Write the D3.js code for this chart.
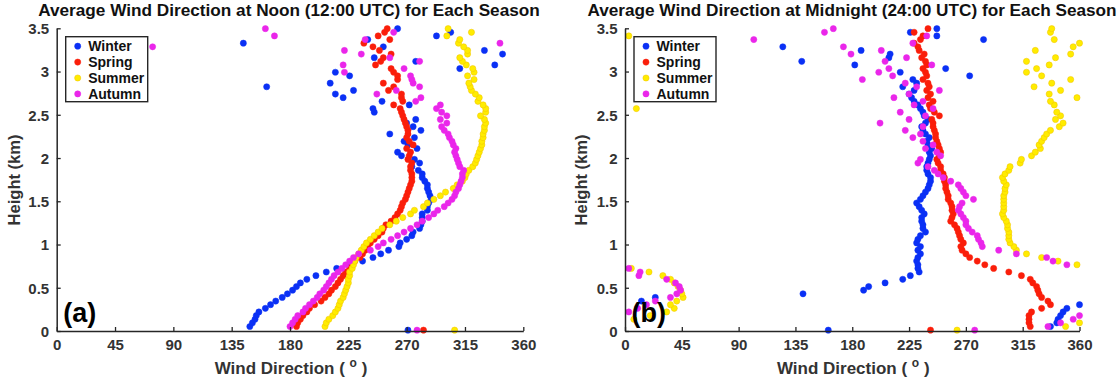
<!DOCTYPE html>
<html><head><meta charset="utf-8">
<script src="https://cdn.jsdelivr.net/npm/d3@7"></script>
<style>
html,body{margin:0;padding:0;background:#fff;}
svg{display:block;font-family:"Liberation Sans",Arial,Helvetica,sans-serif;}
</style></head>
<body>
<svg id="chart" width="1117" height="379"></svg>
<script>
// ---------------- DATA ----------------
const seasons = ["Winter", "Spring", "Summer", "Autumn"];
const xTicks = [0, 45, 90, 135, 180, 225, 270, 315, 360];
const yTicks = [0, 0.5, 1, 1.5, 2, 2.5, 3, 3.5];
const heights = [0.010,0.052,0.094,0.136,0.178,0.220,0.262,0.304,0.346,0.388,0.430,0.472,0.514,0.556,0.598,0.640,0.682,0.724,0.766,0.808,
0.850,0.892,0.934,0.976,1.018,1.060,1.102,1.144,1.186,1.228,1.270,1.312,1.354,1.396,1.438,1.480,1.522,1.564,1.606,1.648,
1.690,1.732,1.774,1.816,1.858,1.900,1.942,1.984,2.026,2.068,2.110,2.152,2.194,2.236,2.278,2.320,2.362,2.404,2.446,2.488,
2.530,2.572,2.614,2.656,2.698,2.740,2.782,2.824,2.866,2.908,2.950,2.992,3.034,3.076,3.118,3.160,3.202,3.244,3.286,3.328,
3.370,3.412,3.454,3.496];

// Noon (12:00 UTC) wind direction (deg) at each height level
const noonWinter = [271,149,151,153,154,156,161,165,169,174,178,182,185,188,193,200,208,216,226,236,
244,250,256,264,265,270,274,275,280,281,282,282,282,286,286,287,289,288,287,286,
286,284,282,282,279,274,280,276,266,263,278,271,268,276,257,281,275,270,277,null,
245,244,272,251,221,215,229,162,211,null,226,215,311,338,277,245,344,330,252,144,
240,293,304,263];
const noonSpring = [283,185,186,188,190,193,195,199,204,207,210,212,215,217,219,221,223,226,228,230,
234,236,238,240,242,245,248,251,252,254,258,261,263,265,266,267,269,270,271,272,
273,274,274,274,273,273,274,271,272,273,270,275,272,270,271,271,270,269,268,267,
266,265,260,267,266,266,256,260,252,263,263,260,258,246,250,252,258,249,244,237,
257,248,253,255];
const noonSummer = [307,207,208,210,213,215,217,218,219,221,222,223,224,225,225,226,226,228,229,230,
231,233,235,237,239,242,245,248,251,257,262,267,273,276,283,286,291,296,300,306,
309,313,315,316,318,321,323,324,325,326,327,328,328,329,329,330,330,331,330,327,
331,331,329,325,326,323,320,319,318,322,317,322,321,316,313,311,317,317,314,310,
311,301,320,302];
const noonAutumn = [278,180,182,184,186,190,192,195,198,201,203,206,208,210,212,214,217,220,223,226,
229,233,242,248,252,258,263,268,273,278,282,287,291,294,299,302,305,307,308,310,
311,312,313,313,314,311,310,309,308,307,308,306,305,303,302,299,297,301,296,301,
297,293,296,277,281,247,262,280,275,274,273,222,268,221,280,257,235,222,74,342,
238,168,260,161];

// Midnight (24:00 UTC) wind direction (deg) at each height level
const midWinter = [161,337,342,343,345,347,350,360,13,24,141,189,193,206,220,226,233,232,232,231,
232,234,232,234,231,232,234,238,236,236,235,235,237,235,233,231,234,236,238,240,
241,242,242,240,239,239,240,241,242,241,243,240,239,241,238,236,235,238,240,237,
236,234,232,229,227,225,229,220,231,228,273,218,254,182,140,209,210,187,125,null,
284,247,226,247];
const midSpring = [242,321,320,320,320,322,330,337,335,330,328,327,326,323,321,314,304,292,285,279,
273,270,267,266,268,266,265,264,263,261,258,259,260,259,259,258,256,256,255,254,
254,253,253,252,250,250,248,247,249,250,249,248,247,246,246,245,244,244,243,249,
245,242,241,244,240,242,239,241,240,236,239,238,236,239,238,235,237,233,232,229,
234,236,229,240];
const midSummer = [263,349,360,7,20,33,39,36,41,46,45,44,42,39,36,30,19,5,358,343,
330,318,310,308,305,304,304,304,303,303,302,300,299,300,300,300,300,300,301,301,
302,300,299,301,304,305,313,314,322,325,329,328,330,332,334,337,344,347,341,345,
342,9,340,337,358,336,345,324,338,353,330,318,326,336,318,341,353,325,355,360,
340,3,337,338];
const midAutumn = [277,335,345,355,360,3,10,17,24,36,41,44,43,40,33,11,12,3,350,339,
334,310,296,283,282,280,279,275,272,270,270,268,266,264,265,267,276,270,268,266,
264,258,252,248,245,240,232,234,250,247,238,244,236,228,234,222,236,202,225,238,
218,244,229,236,213,225,249,231,222,188,212,201,209,243,206,223,179,203,173,228,
102,239,158,165];

const noonSeries = [noonWinter, noonSpring, noonSummer, noonAutumn];
const midSeries = [midWinter, midSpring, midSummer, midAutumn];

// ---------------- STYLE ----------------
const colors = ["#0a30f5", "#fa1e0a", "#ffec00", "#ea26ea"];
const strokes = ["#0a30f5", "#fa1e0a", "#f0c200", "#ea26ea"];
const axisColor = "#262626";

const svg = d3.select("#chart");

const panels = [
  {title: "Average Wind Direction at Noon (12:00 UTC) for Each Season", series: noonSeries,
   x0: 56.7, x1: 523.3, tag: "(a)", titleX: 289, ylabX: 14},
  {title: "Average Wind Direction at Midnight (24:00 UTC) for Each Season", series: midSeries,
   x0: 625, x1: 1079.5, tag: "(b)", titleX: 852, ylabX: 581}
];

const yTop = 28.3, yBot = 331;

panels.forEach(p => {
  const x = d3.scaleLinear().domain([0, 360]).range([p.x0, p.x1]);
  const y = d3.scaleLinear().domain([0, 3.5]).range([yBot, yTop]);
  const g = svg.append("g");

  // points
  p.series.forEach((vals, si) => {
    const pts = vals.map((v, i) => ({v, h: heights[i]})).filter(d => d.v !== null);
    g.append("g").selectAll("circle").data(pts).join("circle")
      .attr("cx", d => x(d.v)).attr("cy", d => y(d.h)).attr("r", 3.1)
      .attr("fill", colors[si]).attr("stroke", strokes[si]).attr("stroke-width", 0.5);
  });

  // axes
  const xa = g.append("g").attr("transform", `translate(0,${yBot})`)
    .call(d3.axisBottom(x).tickValues(xTicks).tickSizeInner(-4).tickSizeOuter(0).tickPadding(8));
  const ya = g.append("g").attr("transform", `translate(${p.x0},0)`)
    .call(d3.axisLeft(y).tickValues(yTicks).tickFormat(d3.format("~g")).tickSizeInner(-4).tickSizeOuter(0).tickPadding(7.5));
  [xa, ya].forEach(a => {
    a.select(".domain").attr("stroke", axisColor).attr("stroke-width", 1.5);
    a.selectAll(".tick line").attr("stroke", axisColor).attr("stroke-width", 1.3);
    a.selectAll(".tick text").attr("fill", "#333").attr("font-size", 15).attr("font-weight", "bold")
      .attr("font-family", '"Liberation Sans",Arial,sans-serif');
  });
  ya.selectAll(".tick text").attr("dy", "0.35em");

  // title
  g.append("text").attr("x", p.titleX).attr("y", 16).attr("text-anchor", "middle")
    .attr("font-size", 17.2).attr("font-weight", "bold").attr("fill", "#111").text(p.title);

  // x label
  const xl = g.append("text").attr("x", (p.x0 + p.x1) / 2 + 1).attr("y", 374).attr("text-anchor", "middle")
    .attr("font-size", 17).attr("font-weight", "bold").attr("fill", "#333");
  xl.append("tspan").text("Wind Direction ( ");
  xl.append("tspan").attr("font-size", 12).attr("dy", -7).text("o");
  xl.append("tspan").attr("dy", 7).text(" )");

  // y label
  g.append("text").attr("transform", `translate(${p.ylabX + 6},180) rotate(-90)`).attr("text-anchor", "middle")
    .attr("font-size", 16.5).attr("font-weight", "bold").attr("fill", "#333").text("Height (km)");

  // panel tag
  g.append("text").attr("x", p.x0 + 6.5).attr("y", 322).attr("font-size", 27).attr("font-weight", "bold")
    .attr("fill", "#000").text(p.tag);

  // legend
  const lx = p.x0 + 9, ly = 36.7;
  const lg = g.append("g");
  lg.append("rect").attr("x", lx).attr("y", ly).attr("width", 82).attr("height", 65)
    .attr("fill", "#fff").attr("stroke", axisColor).attr("stroke-width", 1.4);
  seasons.forEach((s, i) => {
    const ry = ly + 9.5 + i * 15.9;
    lg.append("circle").attr("cx", lx + 12).attr("cy", ry).attr("r", 3.1)
      .attr("fill", colors[i]).attr("stroke", strokes[i]).attr("stroke-width", 0.5);
    lg.append("text").attr("x", lx + 22.5).attr("y", ry + 5).attr("font-size", 14).attr("font-weight", "bold")
      .attr("fill", "#111").text(s);
  });
});
</script>
</body></html>
